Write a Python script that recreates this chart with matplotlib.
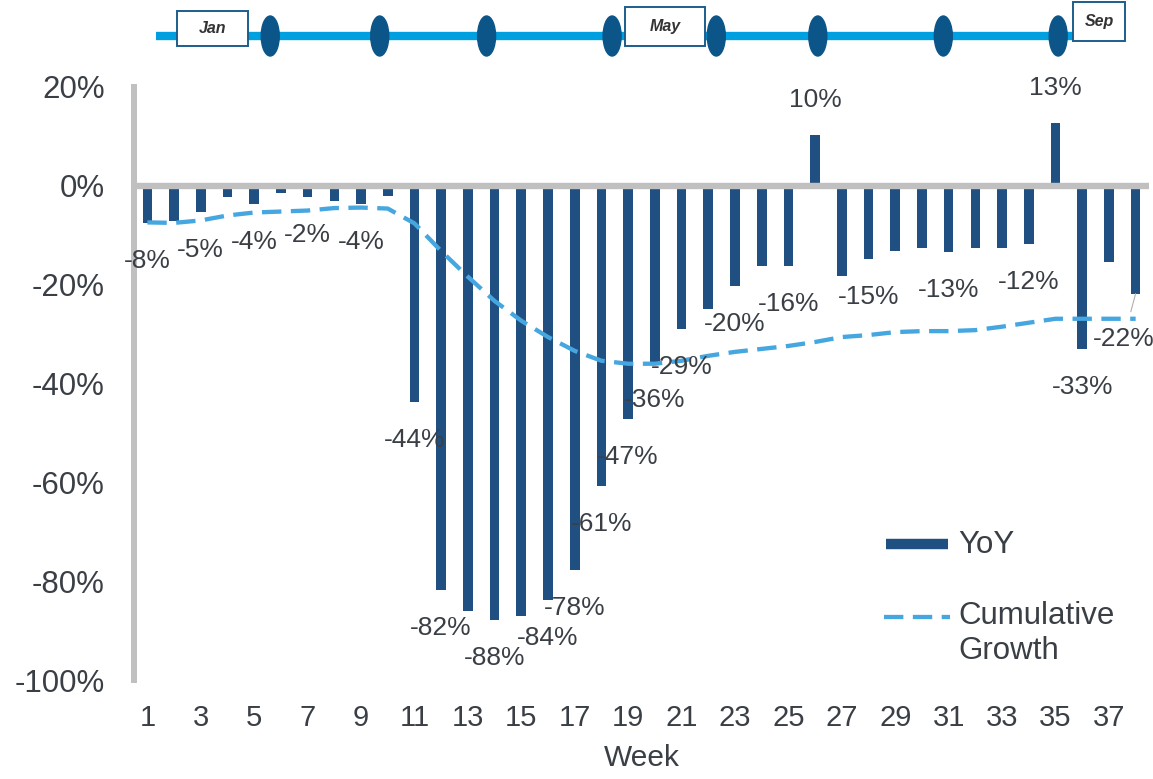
import matplotlib
matplotlib.use("Agg")
import matplotlib.pyplot as plt
from matplotlib.patches import Ellipse, Rectangle
from matplotlib.lines import Line2D

# ---- data ---------------------------------------------------------------
weeks = list(range(1, 39))

yoy = [-7.6, -7.2, -5.2, -2.2, -3.7, -1.5, -2.2, -3.0, -3.7, -2.0,
       -43.8, -81.8, -86.0, -87.8, -87.0, -83.8, -77.8, -60.8, -47.2, -35.6,
       -29.0, -25.0, -20.2, -16.2, -16.2, 10.3, -18.2, -14.8, -13.2, -12.6,
       -13.4, -12.6, -12.6, -11.8, 12.8, -33.0, -15.4, -21.8]

cumulative = [-7.4, -7.5, -7.0, -6.0, -5.4, -5.2, -5.0, -4.5, -4.4, -4.6,
              -7.6, -13.2, -18.4, -23.3, -27.3, -30.6, -33.4, -35.4, -36.0, -36.0,
              -35.4, -34.4, -33.6, -33.0, -32.4, -31.6, -30.6, -30.2, -29.6, -29.4,
              -29.4, -29.2, -28.5, -27.7, -26.9, -26.9, -26.9, -26.9]

labeled_weeks = [1, 3, 5, 7, 9, 11, 12, 14, 16, 17, 18, 19, 20, 21, 23, 25,
                 26, 28, 31, 34, 35, 36, 38]

x_ticks = list(range(1, 38, 2))
y_ticks = [20, 0, -20, -40, -60, -80, -100]

month_names = ["Jan", "May", "Sep"]
month_centers = [3.45, 20.39, 36.63]          # in week units
month_marks = [5.6, 9.7, 13.7, 18.4, 22.3, 26.1, 30.8, 35.1]

# ---- style --------------------------------------------------------------
BAR = "#1f5081"
LINE = "#45a6e0"
AXIS_GRAY = "#c0c0c0"
TXT = "#3a3f46"
TL_LINE = "#00a0e0"
TL_MARK = "#0b5589"

plt.rcParams["font.family"] = ["Liberation Sans", "DejaVu Sans"]

W, H = 1153, 779
fig = plt.figure(figsize=(W / 100, H / 100), dpi=100)


def px_box(x0, y0, x1, y1):
    return [x0 / W, 1 - y1 / H, (x1 - x0) / W, (y1 - y0) / H]


def fx(x):
    return x / W


def fy(y):
    return 1 - y / H


# ---- main chart ---------------------------------------------------------
ax = fig.add_axes(px_box(134, 87, 1149, 680))
ax.bar(weeks, yoy, width=0.36, color=BAR, zorder=2)
ax.plot(weeks, cumulative, color=LINE, lw=3.1, dashes=(4.5, 2.2),
        dash_capstyle="butt", zorder=4)
ax.axhline(0, color=AXIS_GRAY, lw=4.6, zorder=3)

ax.set_xlim(0.5, 38.5)
ax.set_ylim(-100, 20)
for side in ("top", "right", "bottom"):
    ax.spines[side].set_visible(False)
ax.spines["left"].set_color(AXIS_GRAY)
ax.spines["left"].set_linewidth(4.3)

ax.set_xticks(x_ticks)
ax.set_xticklabels([str(t) for t in x_ticks])
ax.set_yticks(y_ticks)
ax.set_yticklabels([f"{t}%" for t in y_ticks])
ax.tick_params(axis="x", length=0, labelsize=21, colors=TXT, pad=17)
ax.tick_params(axis="y", length=0, labelsize=22.5, colors=TXT, pad=21)
ax.set_xlabel("Week", fontsize=21.5, color=TXT, labelpad=9)

# value labels
for w in labeled_weeks:
    v = yoy[w - 1]
    dy = 35 if v > 0 else -38
    if w == weeks[-1]:
        ax.annotate(f"{v:.0f}%", xy=(w, v), xytext=(-12, -45),
                    textcoords="offset pixels", ha="center", va="center",
                    fontsize=19, color=TXT, zorder=5,
                    arrowprops=dict(arrowstyle="-", color="#b0b0b0", lw=0.8,
                                    shrinkA=9, shrinkB=0))
    else:
        ax.annotate(f"{v:.0f}%", xy=(w, v), xytext=(0, dy),
                    textcoords="offset pixels", ha="center", va="center",
                    fontsize=19, color=TXT, zorder=5)

# legend
fig.add_artist(Line2D([fx(886), fx(948)], [fy(544), fy(544)],
                      transform=fig.transFigure, color=BAR, lw=7.5,
                      solid_capstyle="butt"))
fig.text(fx(958), fy(545), "YoY", fontsize=22.5, color=TXT, va="center")
fig.add_artist(Line2D([fx(884), fx(950)], [fy(617), fy(617)],
                      transform=fig.transFigure, color=LINE, lw=3.1,
                      dashes=(4.5, 2.2), dash_capstyle="butt"))
fig.text(fx(958), fy(616), "Cumulative", fontsize=22.5, color=TXT, va="center")
fig.text(fx(958), fy(651), "Growth", fontsize=22.5, color=TXT, va="center")

# ---- month timeline ------------------------------------------------------
tl = fig.add_axes(px_box(134, 0, 1149, 60))
tl.set_xlim(0.5, 38.5)
tl.set_ylim(60, 0)
tl.axis("off")
week_px = (1149 - 134) / 38.0
tl.plot([1.33, 35.7], [36, 36], color=TL_LINE, lw=6, solid_capstyle="butt",
        zorder=1)
for m in month_marks:
    tl.add_patch(Ellipse((m, 36), width=18 / week_px, height=40,
                         color=TL_MARK, zorder=2))
box_widths = [71, 80, 52]
box_tops = [11, 7, 2]
box_heights = [35, 39, 39]
for name, c, bw, top, bh in zip(month_names, month_centers, box_widths,
                                box_tops, box_heights):
    wk = bw / week_px
    tl.add_patch(Rectangle((c - wk / 2, top), wk, bh, facecolor="white",
                           edgecolor="#1b5e8c", lw=1.4, zorder=3))
    tl.text(c, top + bh / 2, name, ha="center", va="center", fontsize=11.5,
            style="italic", fontweight="bold", color="#333333", zorder=4)

fig.savefig("out.png", dpi=100)
